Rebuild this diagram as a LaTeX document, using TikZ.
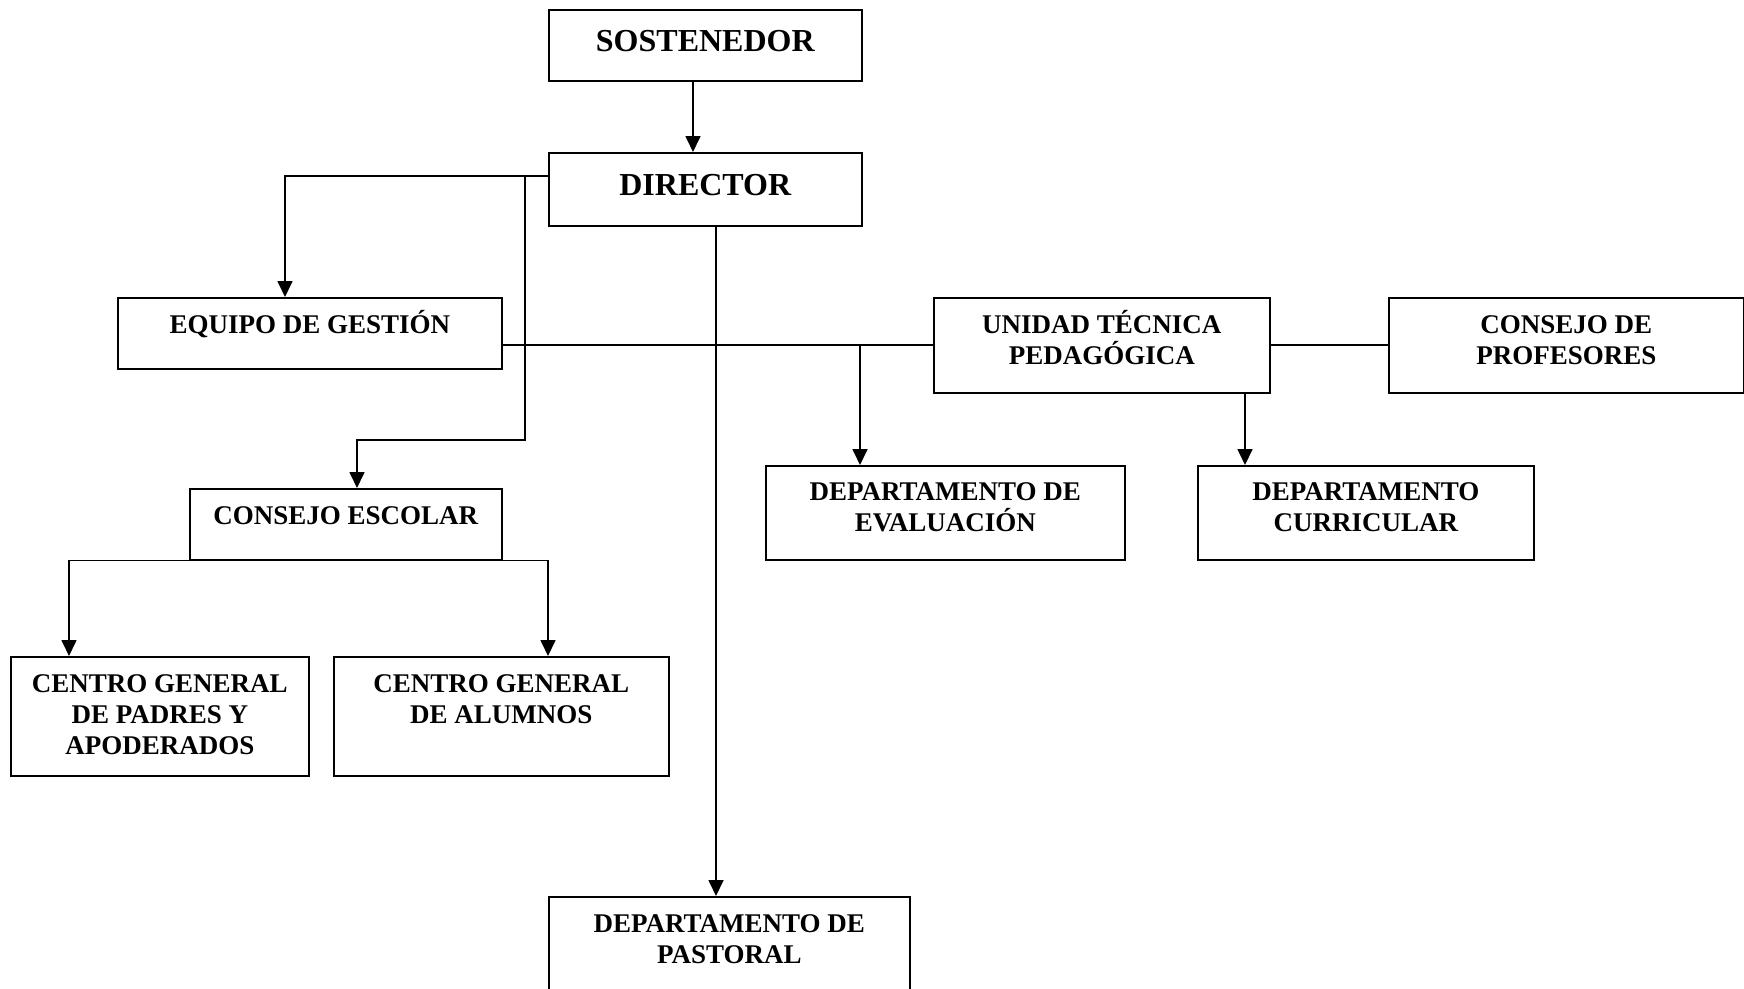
\documentclass[tikz,border=0pt]{standalone}
\usepackage{fontspec}
\setmainfont{Liberation Serif}
\usetikzlibrary{arrows.meta}
\begin{document}
\begin{tikzpicture}[x=1pt,y=-1pt,
  obox/.style={draw, line width=1.6pt, inner sep=0pt, anchor=north west,
    font=\fontsize{27}{31}\selectfont\bfseries},
  bigbox/.style={obox, font=\fontsize{32}{36}\selectfont\bfseries},
  conn/.style={line width=1.7pt},
  arr/.style={conn, -{Triangle[length=16pt,width=15pt]}}]
\useasboundingbox (0,0) rectangle (1744,988);
% boxes
\node[bigbox] (SOS) at (548,9) {\parbox[t][71pt][t]{313pt}{\centering\rule{0pt}{41.6pt}SOSTENEDOR}};
\node[bigbox] (DIR) at (548,152) {\parbox[t][73pt][t]{313pt}{\centering\rule{0pt}{42.6pt}DIRECTOR}};
\node[obox] (EQ) at (117,297) {\parbox[t][71pt][t]{384pt}{\centering\rule{0pt}{36pt}EQUIPO DE GESTIÓN}};
\node[obox] (UT) at (933,297) {\parbox[t][95pt][t]{336pt}{\centering\rule{0pt}{36pt}UNIDAD TÉCNICA\\PEDAGÓGICA}};
\node[obox] (CP) at (1388,297) {\parbox[t][95pt][t]{355pt}{\centering\rule{0pt}{36pt}CONSEJO DE\\PROFESORES}};
\node[obox] (DEV) at (765,465) {\parbox[t][94pt][t]{359pt}{\centering\rule{0pt}{35pt}DEPARTAMENTO DE\\EVALUACIÓN}};
\node[obox] (DCU) at (1197,465) {\parbox[t][94pt][t]{336pt}{\centering\rule{0pt}{35pt}DEPARTAMENTO\\CURRICULAR}};
\node[obox] (CES) at (189,488) {\parbox[t][71pt][t]{312pt}{\centering\rule{0pt}{36pt}CONSEJO ESCOLAR}};
\node[obox] (CPA) at (10,656) {\parbox[t][119pt][t]{298pt}{\centering\rule{0pt}{36pt}CENTRO GENERAL\\DE PADRES Y\\APODERADOS}};
\node[obox] (CAL) at (333,656) {\parbox[t][119pt][t]{335pt}{\centering\rule{0pt}{36pt}CENTRO GENERAL\\DE ALUMNOS}};
\node[obox] (PAS) at (548,896) {\parbox[t][110pt][t]{361pt}{\centering\rule{0pt}{36pt}DEPARTAMENTO DE\\PASTORAL}};
% helper coordinates
\coordinate (sosx) at ([xshift=145pt]SOS.south west);
\coordinate (dirx) at ([xshift=145pt]DIR.north west);
\coordinate (dl) at ([yshift=-24pt]DIR.north west);
\coordinate (dv) at ([xshift=-23pt,yshift=-24pt]DIR.north west);
\coordinate (eqx) at ([xshift=168pt]EQ.north west);
\coordinate (cesx) at ([xshift=168pt]CES.north west);
\coordinate (dd) at ([xshift=168pt]DIR.south west);
\coordinate (pasx) at ([xshift=168pt]PAS.north west);
\coordinate (hl) at ([yshift=-48pt]EQ.north east);
\coordinate (hr) at ([yshift=-48pt]UT.north west);
\coordinate (ur) at ([yshift=-48pt]UT.north east);
\coordinate (cpl) at ([yshift=-48pt]CP.north west);
\coordinate (evx) at ([xshift=95pt]DEV.north west);
\coordinate (utx) at ([xshift=312pt]UT.south west);
\coordinate (dcx) at ([xshift=48pt]DCU.north west);
\coordinate (cpax) at ([xshift=59pt]CPA.north west);
\coordinate (calx) at ([xshift=215pt]CAL.north west);
% connectors
\draw[arr] (sosx) -- (dirx);
\draw[arr] (dl) -| (eqx);
\draw[arr] (dv) -- ++(0pt,-264pt) -| (cesx);
\draw[arr] (dd) -- (pasx);
\draw[conn] (hl) -- (hr);
\draw[conn] (ur) -- (cpl);
\draw[arr] (evx |- hl) -- (evx);
\draw[arr] (utx) -- (dcx);
\draw[arr] (CES.south west) -| (cpax);
\draw[arr] (CES.south east) -| (calx);
\end{tikzpicture}
\end{document}
